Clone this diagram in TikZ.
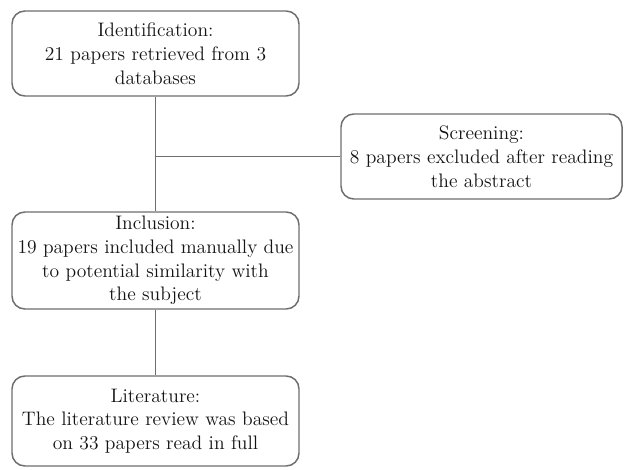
\documentclass[tikz,border=0pt]{standalone}
\usetikzlibrary{positioning,calc}
\usepackage{xcolor}
\definecolor{prEdge}{HTML}{6E6E6E}
\definecolor{prText}{HTML}{141414}

\begin{document}
\begin{tikzpicture}[
  phasebox/.style={draw=prEdge, line width=1.05pt, rounded corners=0.32cm, fill=white,
    minimum width=7.175cm, inner sep=0pt, align=center, text=prText,
    font=\fontsize{13.9}{16.9}\selectfont},
  conn/.style={draw=prEdge, line width=1.05pt}]
\useasboundingbox (0,0) rectangle (15.6,-11.725);

% ── phases of the review ──
\node[phasebox, minimum height=2.125cm] (ident) at (3.8875,-1.3375)
  {Identification:\\21 papers retrieved from 3\\databases};
\node[phasebox, minimum width=7.025cm, minimum height=2.125cm] (screen) at (12.0375,-3.9125)
  {Screening:\\8 papers excluded after reading\\the abstract};
\node[phasebox, minimum height=2.425cm] (incl) at (3.8875,-6.5125)
  {Inclusion:\\19 papers included manually due\\to potential similarity with\\the subject};
\node[phasebox, minimum height=2.25cm] (lit) at (3.8875,-10.525)
  {Literature:\\The literature review was based\\on 33 papers read in full};

% ── connectors ──
\coordinate (branch) at (screen.west -| ident.south);
\draw[conn] (ident.south) -- (incl.north);
\draw[conn] (branch) -- (screen.west);
\draw[conn] (incl.south) -- (lit.north);
\end{tikzpicture}
\end{document}
